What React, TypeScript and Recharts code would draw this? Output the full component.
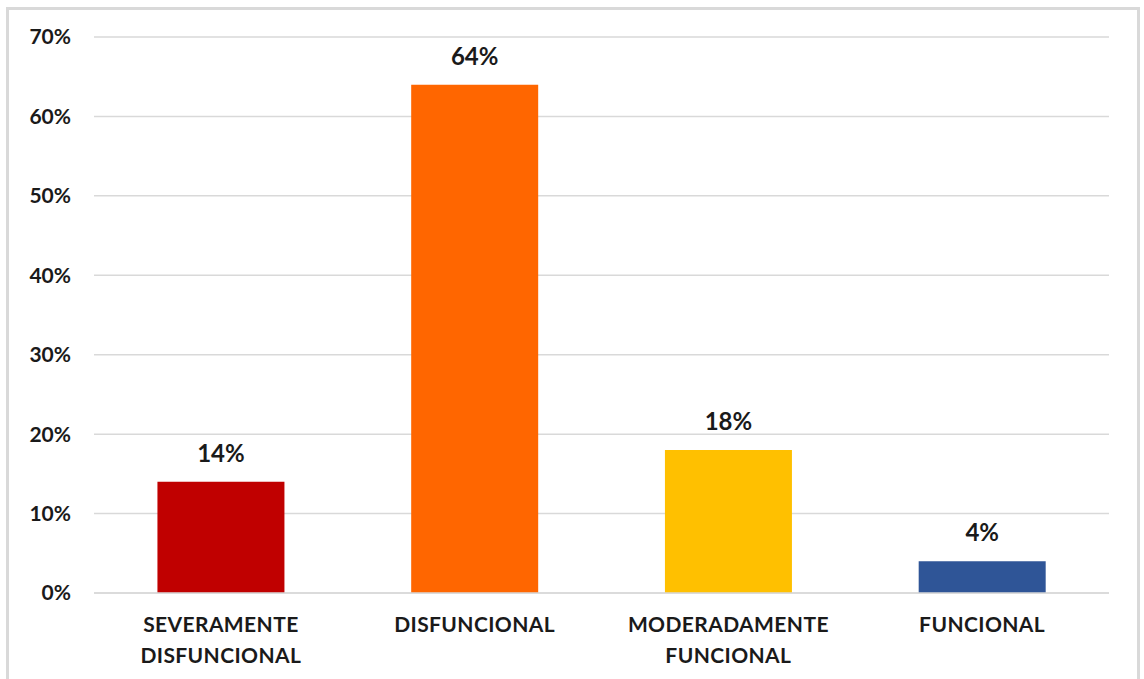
import React from 'react';
import { BarChart, Bar, XAxis, YAxis, CartesianGrid, Cell, LabelList } from 'recharts';

const categories = ['SEVERAMENTE DISFUNCIONAL', 'DISFUNCIONAL', 'MODERADAMENTE FUNCIONAL', 'FUNCIONAL'];
const values = [14, 64, 18, 4];
const barColors = ['#C00000', '#FF6600', '#FFC000', '#2F5597'];
const yTicks = [0, 10, 20, 30, 40, 50, 60, 70];

const data = categories.map((name, i) => ({ name, value: values[i] }));

const FONT = 'Lato, "Open Sans", sans-serif';

function CategoryTick(props: any) {
  const { x, y, payload } = props;
  const words: string[] = String(payload.value).split(' ');
  return (
    <g transform={`translate(${x},${y})`}>
      {words.map((w, i) => (
        <text
          key={i}
          x={0}
          y={31 + i * 31}
          textAnchor="middle"
          fill="#1a1a1a"
          fontSize={21}
          fontWeight={700}
          fontFamily={FONT}
          letterSpacing={0.4}
        >
          {w}
        </text>
      ))}
    </g>
  );
}

export default function App() {
  return (
    <div style={{ position: 'absolute', left: 0, top: 0, width: 1144, height: 679, background: '#fff', overflow: 'hidden' }}>
      <div
        style={{
          position: 'absolute',
          left: 6,
          top: 7,
          width: 1128,
          height: 700,
          border: '3px solid #d9d9d9',
        }}
      />
      <div style={{ position: 'absolute', left: 0, top: 0 }}>
        <BarChart
          width={1144}
          height={679}
          data={data}
          margin={{ top: 37, right: 35, bottom: 0, left: 34 }}
          barCategoryGap="25%"
        >
          <CartesianGrid vertical={false} stroke="#d9d9d9" strokeWidth={1.5} />
          <XAxis
            dataKey="name"
            axisLine={{ stroke: '#d9d9d9', strokeWidth: 1.5 }}
            tickLine={false}
            interval={0}
            tick={<CategoryTick />}
            height={86}
          />
          <YAxis
            width={60}
            domain={[0, 70]}
            ticks={yTicks}
            axisLine={false}
            tickLine={false}
            tickSize={0}
            tickMargin={23}
            tickFormatter={(v: number) => `${v}%`}
            tick={{ fill: '#1a1a1a', fontSize: 21, fontWeight: 700, fontFamily: FONT }}
          />
          <Bar dataKey="value" isAnimationActive={false}>
            {data.map((_, i) => (
              <Cell key={`c-${i}`} fill={barColors[i]} />
            ))}
            <LabelList
              dataKey="value"
              position="top"
              offset={20}
              formatter={(v: any) => `${v}%`}
              style={{ fill: '#1a1a1a', fontSize: 24, fontWeight: 700, fontFamily: FONT }}
            />
          </Bar>
        </BarChart>
      </div>
    </div>
  );
}
